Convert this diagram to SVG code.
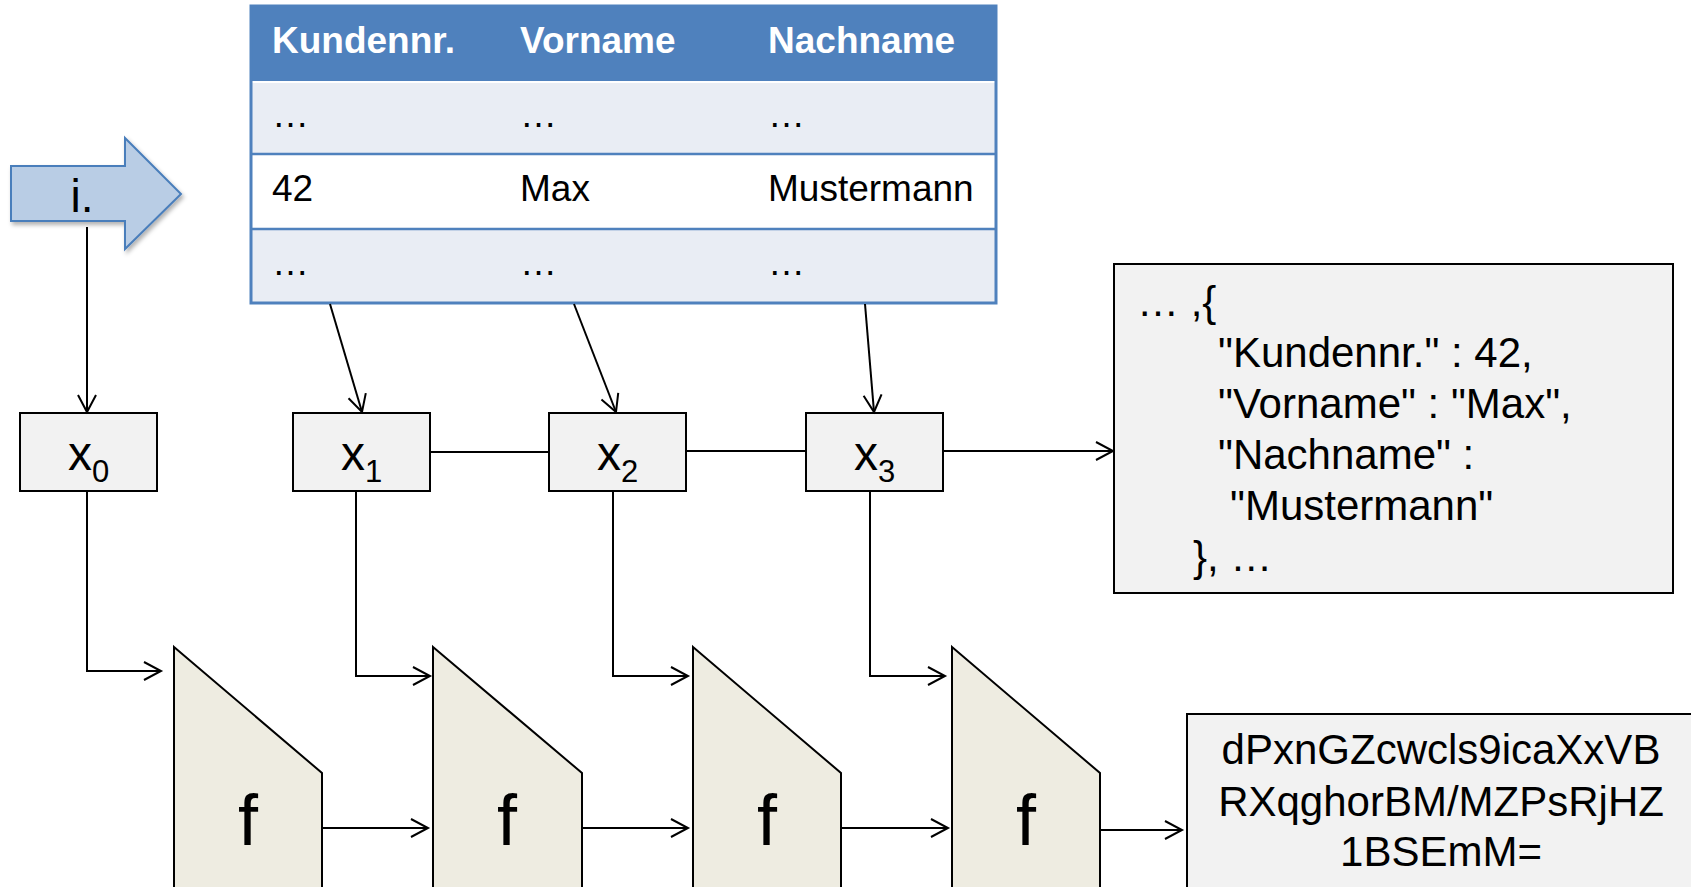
<svg xmlns="http://www.w3.org/2000/svg" width="1691" height="887" viewBox="0 0 1691 887">
<style>
text{font-family:"Liberation Sans",Arial,sans-serif;fill:#000}
.hd{font-size:37px;font-weight:bold;fill:#fff}
.cell{font-size:37px}
.box{fill:#F2F2F2;stroke:#000;stroke-width:2}
.fshape{fill:#EEECE1;stroke:#000;stroke-width:2}
.xl{font-size:48px}
.sub{font-size:31px}
.fl{font-size:72px}
.js{font-size:42px}
.conn line,.conn path{stroke:#000;stroke-width:2;fill:none}
.arr{marker-end:url(#ah)}
</style>
<defs>
<marker id="ah" markerUnits="userSpaceOnUse" markerWidth="22" markerHeight="22" viewBox="0 0 22 22" refX="19" refY="11" orient="auto">
<path d="M2,2 L19,11 L2,20" fill="none" stroke="#000" stroke-width="2"/>
</marker>
<filter id="sh" x="-20%" y="-20%" width="150%" height="150%">
<feDropShadow dx="2" dy="3" stdDeviation="2" flood-color="#000" flood-opacity="0.3"/>
</filter>
</defs>

<g id="table">
<rect x="251" y="6" width="745" height="76" fill="#4F81BD"/>
<rect x="251" y="82" width="745" height="72" fill="#E9EDF4"/>
<rect x="251" y="154" width="745" height="75" fill="#FFFFFF"/>
<rect x="251" y="229" width="745" height="74" fill="#E9EDF4"/>
<line x1="251" y1="82" x2="996" y2="82" stroke="#FFFFFF" stroke-width="2"/>
<line x1="251" y1="154" x2="996" y2="154" stroke="#4F81BD" stroke-width="2.5"/>
<line x1="251" y1="229" x2="996" y2="229" stroke="#4F81BD" stroke-width="2.5"/>
<rect x="251" y="6" width="745" height="297" fill="none" stroke="#4F81BD" stroke-width="3"/>
<text class="hd" x="272" y="53">Kundennr.</text>
<text class="hd" x="520" y="53">Vorname</text>
<text class="hd" x="768" y="53">Nachname</text>
<text class="cell" x="272" y="127">…</text>
<text class="cell" x="520" y="127">…</text>
<text class="cell" x="768" y="127">…</text>
<text class="cell" x="272" y="201">42</text>
<text class="cell" x="520" y="201">Max</text>
<text class="cell" x="768" y="201">Mustermann</text>
<text class="cell" x="272" y="275">…</text>
<text class="cell" x="520" y="275">…</text>
<text class="cell" x="768" y="275">…</text>
</g>

<g id="arrow-i">
<polygon points="11,166 125,166 125,138 181,194 125,249 125,221 11,221" fill="#B9CDE5" stroke="#4A7EBB" stroke-width="2" filter="url(#sh)"/>
<text x="82" y="212" font-size="46" text-anchor="middle">i.</text>
</g>

<g id="x0"><rect class="box" x="20" y="413" width="137" height="78"/><text class="xl" x="88.5" y="470" text-anchor="middle">x<tspan class="sub" dy="12">0</tspan></text></g>
<g id="x1"><rect class="box" x="293" y="413" width="137" height="78"/><text class="xl" x="361.5" y="470" text-anchor="middle">x<tspan class="sub" dy="12">1</tspan></text></g>
<g id="x2"><rect class="box" x="549" y="413" width="137" height="78"/><text class="xl" x="617.5" y="470" text-anchor="middle">x<tspan class="sub" dy="12">2</tspan></text></g>
<g id="x3"><rect class="box" x="806" y="413" width="137" height="78"/><text class="xl" x="874.5" y="470" text-anchor="middle">x<tspan class="sub" dy="12">3</tspan></text></g>

<g id="json">
<rect class="box" x="1114" y="264" width="559" height="329"/>
<text class="js" x="1137" y="316">… ,{</text>
<text class="js" x="1218" y="367">"Kundennr." : 42,</text>
<text class="js" x="1218" y="418">"Vorname" : "Max",</text>
<text class="js" x="1218" y="469">"Nachname" :</text>
<text class="js" x="1230" y="520">"Mustermann"</text>
<text class="js" x="1193" y="571">}, …</text>
</g>

<g id="f1"><polygon class="fshape" points="174,647 322,773 322,900 174,900"/><text class="fl" x="248" y="845" text-anchor="middle">f</text></g>
<g id="f2"><polygon class="fshape" points="433,647 582,773 582,900 433,900"/><text class="fl" x="507" y="845" text-anchor="middle">f</text></g>
<g id="f3"><polygon class="fshape" points="693,647 841,773 841,900 693,900"/><text class="fl" x="767" y="845" text-anchor="middle">f</text></g>
<g id="f4"><polygon class="fshape" points="952,647 1100,773 1100,900 952,900"/><text class="fl" x="1026" y="845" text-anchor="middle">f</text></g>

<g id="hash">
<rect class="box" x="1187" y="714" width="540" height="200"/>
<text class="js" x="1441" y="764" text-anchor="middle">dPxnGZcwcls9icaXxVB</text>
<text class="js" x="1441" y="816" text-anchor="middle">RXqghorBM/MZPsRjHZ</text>
<text class="js" x="1441" y="866" text-anchor="middle">1BSEmM=</text>
</g>

<g id="connectors" class="conn">
<line class="arr" x1="87" y1="227" x2="87" y2="412"/>
<line class="arr" x1="330" y1="304" x2="362" y2="412"/>
<line class="arr" x1="574" y1="304" x2="616" y2="412"/>
<line class="arr" x1="865" y1="304" x2="874" y2="412"/>
<line x1="430" y1="452" x2="549" y2="452"/>
<line x1="686" y1="451" x2="806" y2="451"/>
<line class="arr" x1="943" y1="451" x2="1113" y2="451"/>
<path class="arr" d="M87,491 V671 H161"/>
<path class="arr" d="M356,491 V676 H430"/>
<path class="arr" d="M613,491 V676 H688"/>
<path class="arr" d="M870,491 V676 H945"/>
<line class="arr" x1="322" y1="828" x2="428" y2="828"/>
<line class="arr" x1="582" y1="828" x2="688" y2="828"/>
<line class="arr" x1="841" y1="828" x2="948" y2="828"/>
<line class="arr" x1="1100" y1="830" x2="1182" y2="830"/>
</g>
</svg>
